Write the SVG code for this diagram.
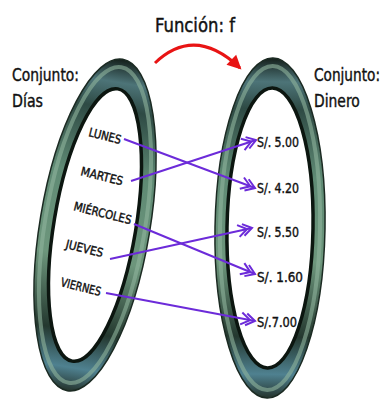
<svg xmlns="http://www.w3.org/2000/svg" width="388" height="399" viewBox="0 0 388 399">
<style>
.t{font-family:'DejaVu Sans Condensed','Liberation Sans',sans-serif;fill:#111;stroke:#111;stroke-width:0.4}
.hd{font-size:18px}
.day{font-size:12px}
.val{font-size:14px}
.conn{stroke:#6c2bd9;stroke-width:2;fill:none;marker-end:url(#dbl)}
.ringfill{fill:url(#rg);fill-rule:evenodd}
.ringin{fill:none;stroke:#0c1610;stroke-width:3.5}
.ringout{fill:none;stroke:#1b2a22;stroke-width:1.5}
.ringhi{fill:none;stroke:#8fb49c;stroke-width:4;opacity:0.6}
</style>
<defs>
<linearGradient id="rg" x1="0" y1="0" x2="0" y2="1">
<stop offset="0" stop-color="#141f1a"/>
<stop offset="0.07" stop-color="#4d7478"/>
<stop offset="0.15" stop-color="#2e4a44"/>
<stop offset="0.35" stop-color="#5f8a74"/>
<stop offset="0.6" stop-color="#6d967c"/>
<stop offset="0.82" stop-color="#24382f"/>
<stop offset="0.93" stop-color="#4f8190"/>
<stop offset="1" stop-color="#24332c"/>
</linearGradient>
<marker id="dbl" markerUnits="userSpaceOnUse" markerWidth="20" markerHeight="20" refX="0" refY="0" orient="auto" overflow="visible">
<path d="M-9,-6 L0,0 L-9,6 M-14,-6 L-5,0 L-14,6" fill="none" stroke="#6c2bd9" stroke-width="2"/>
</marker>
<marker id="red" markerUnits="userSpaceOnUse" markerWidth="20" markerHeight="20" refX="0" refY="0" orient="auto" overflow="visible">
<path d="M-12,-7 L2,0 L-12,7 Z" fill="#e81414"/>
</marker>
</defs>
<rect width="388" height="399" fill="#fff"/>

<g id="ring-dias" transform="rotate(9.5 95 225)">
<path class="ringfill" d="M40,225 a55,168 0 1,0 110,0 a55,168 0 1,0 -110,0 Z M54,225 a41,138 0 1,0 82,0 a41,138 0 1,0 -82,0 Z"/>
<ellipse class="ringhi" cx="95" cy="225" rx="50" ry="160"/>
<ellipse class="ringout" cx="95" cy="225" rx="55" ry="168"/>
<ellipse class="ringin" cx="95" cy="225" rx="41" ry="138"/>
</g>
<g id="ring-dinero" transform="rotate(1 270 228)">
<path class="ringfill" d="M215,228 a55,170 0 1,0 110,0 a55,170 0 1,0 -110,0 Z M227,228 a43,140 0 1,0 86,0 a43,140 0 1,0 -86,0 Z"/>
<ellipse class="ringhi" cx="270" cy="228" rx="50" ry="162"/>
<ellipse class="ringout" cx="270" cy="228" rx="55" ry="170"/>
<ellipse class="ringin" cx="270" cy="228" rx="43" ry="140"/>
</g>

<g id="title">
<text class="t" x="155" y="32" font-size="19" textLength="80" lengthAdjust="spacingAndGlyphs">Función: f</text>
</g>
<g id="label-dias">
<text class="t hd" x="12" y="81" textLength="67" lengthAdjust="spacingAndGlyphs">Conjunto:</text>
<text class="t hd" x="12" y="107" textLength="31" lengthAdjust="spacingAndGlyphs">Días</text>
</g>
<g id="label-dinero">
<text class="t hd" transform="translate(314 81) scale(0.75 1)" textLength="88" lengthAdjust="spacingAndGlyphs">Conjunto:</text>
<text class="t hd" transform="translate(314 107) scale(0.75 1)" textLength="61" lengthAdjust="spacingAndGlyphs">Dinero</text>
</g>

<g id="days">
<g id="lunes"><text class="t day" transform="translate(88 136) rotate(14)" textLength="33" lengthAdjust="spacingAndGlyphs">LUNES</text></g>
<g id="martes"><text class="t day" transform="translate(80 175) rotate(14)" textLength="43" lengthAdjust="spacingAndGlyphs">MARTES</text></g>
<g id="miercoles"><text class="t day" transform="translate(73 210) rotate(14)" textLength="59" lengthAdjust="spacingAndGlyphs">MIÉRCOLES</text></g>
<g id="jueves"><text class="t day" transform="translate(65 248) rotate(14)" textLength="38" lengthAdjust="spacingAndGlyphs">JUEVES</text></g>
<g id="viernes"><text class="t day" transform="translate(60 286) rotate(14)" textLength="41" lengthAdjust="spacingAndGlyphs">VIERNES</text></g>
</g>

<g id="values">
<g id="v500"><text class="t val" x="257" y="147" textLength="42" lengthAdjust="spacingAndGlyphs">S/. 5.00</text></g>
<g id="v420"><text class="t val" x="257" y="193" textLength="42" lengthAdjust="spacingAndGlyphs">S/. 4.20</text></g>
<g id="v550"><text class="t val" x="257" y="237" textLength="42" lengthAdjust="spacingAndGlyphs">S/. 5.50</text></g>
<g id="v160"><text class="t val" x="257" y="282" textLength="46" lengthAdjust="spacingAndGlyphs">S/. 1.60</text></g>
<g id="v700"><text class="t val" x="257" y="327" textLength="40" lengthAdjust="spacingAndGlyphs">S/.7.00</text></g>
</g>

<g id="connectors">
<path d="M155,63 Q195,25 240,68" fill="none" stroke="#e81414" stroke-width="3" marker-end="url(#red)"/>
<line class="conn" x1="124" y1="139" x2="255" y2="188"/>
<line class="conn" x1="131" y1="181" x2="256" y2="140"/>
<line class="conn" x1="134" y1="224" x2="255" y2="274"/>
<line class="conn" x1="110" y1="259" x2="252" y2="228"/>
<line class="conn" x1="106" y1="293" x2="255" y2="321"/>
</g>
</svg>
